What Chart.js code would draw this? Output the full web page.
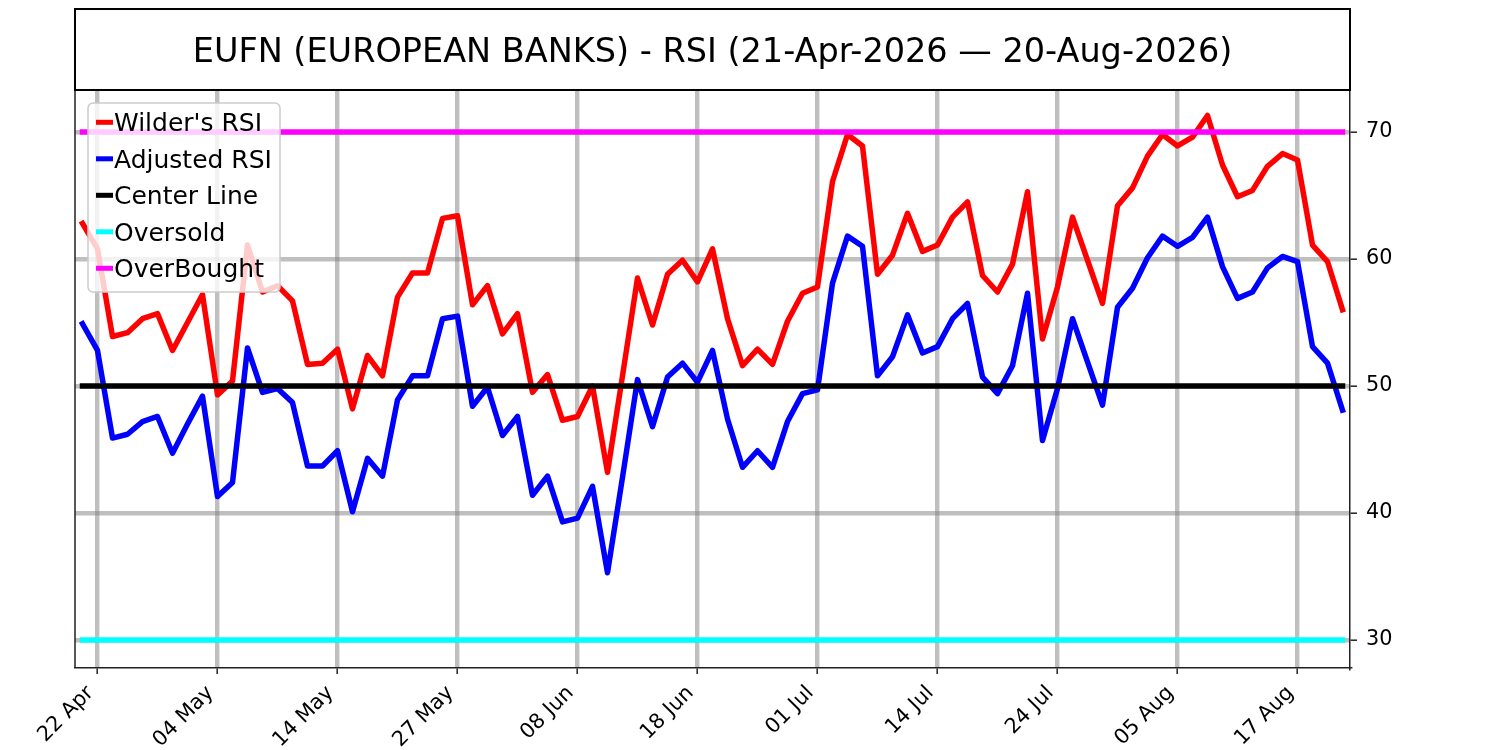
<!DOCTYPE html>
<html><head><meta charset="utf-8">
<script src="https://cdn.jsdelivr.net/npm/chart.js@4.4.1/dist/chart.umd.min.js"></script>
<style>html,body{margin:0;padding:0;background:#fff;} canvas{display:block;}</style>
</head><body>
<canvas id="c" width="1500" height="750"></canvas>
<script>
// ---- data ----
const dates = [
  "21 Apr","22 Apr","23 Apr","24 Apr","27 Apr","28 Apr","29 Apr","30 Apr",
  "01 May","04 May","05 May","06 May","07 May","08 May","11 May","12 May","13 May","14 May","15 May",
  "18 May","19 May","20 May","21 May","22 May","26 May","27 May","28 May","29 May",
  "01 Jun","02 Jun","03 Jun","04 Jun","05 Jun","08 Jun","09 Jun","10 Jun","11 Jun","12 Jun",
  "15 Jun","16 Jun","17 Jun","18 Jun","22 Jun","23 Jun","24 Jun","25 Jun","26 Jun","29 Jun","30 Jun",
  "01 Jul","02 Jul","06 Jul","07 Jul","08 Jul","09 Jul","10 Jul","13 Jul","14 Jul","15 Jul","16 Jul",
  "17 Jul","20 Jul","21 Jul","22 Jul","23 Jul","24 Jul","27 Jul","28 Jul","29 Jul","30 Jul","31 Jul",
  "03 Aug","04 Aug","05 Aug","06 Aug","07 Aug","10 Aug","11 Aug","12 Aug","13 Aug","14 Aug",
  "17 Aug","18 Aug","19 Aug","20 Aug"
];
const wilderRSI = [
  62.8, 60.8, 53.9, 54.2, 55.3, 55.7, 52.8, 55.0, 57.2, 49.3,
  50.4, 61.1, 57.4, 57.9, 56.7, 51.7, 51.8, 52.9, 48.2, 52.4,
  50.8, 57.0, 58.9, 58.9, 63.2, 63.4, 56.4, 57.9, 54.1, 55.7,
  49.5, 50.9, 47.3, 47.6, 50.0, 43.2, 50.8, 58.5, 54.8, 58.8,
  59.9, 58.2, 60.8, 55.3, 51.6, 52.9, 51.7, 55.1, 57.3, 57.8,
  66.1, 69.8, 68.9, 58.8, 60.3, 63.6, 60.6, 61.1, 63.3, 64.5,
  58.7, 57.4, 59.6, 65.3, 53.7, 57.8, 63.3, 59.9, 56.5, 64.2,
  65.6, 68.1, 69.8, 68.9, 69.6, 71.3, 67.4, 64.9, 65.4, 67.3,
  68.3, 67.8, 61.1, 59.8, 56.0
];
const adjustedRSI = [
  54.9, 52.8, 45.9, 46.2, 47.2, 47.6, 44.7, 47.0, 49.2, 41.3,
  42.4, 53.0, 49.5, 49.8, 48.7, 43.7, 43.7, 44.9, 40.1, 44.3,
  42.9, 48.9, 50.8, 50.8, 55.3, 55.5, 48.4, 49.9, 46.1, 47.6,
  41.4, 42.9, 39.3, 39.6, 42.1, 35.3, 42.8, 50.5, 46.8, 50.7,
  51.8, 50.3, 52.8, 47.4, 43.6, 44.9, 43.6, 47.2, 49.4, 49.7,
  58.1, 61.8, 61.0, 50.8, 52.3, 55.6, 52.6, 53.1, 55.3, 56.5,
  50.7, 49.4, 51.6, 57.3, 45.7, 49.8, 55.3, 51.9, 48.5, 56.2,
  57.7, 60.1, 61.8, 61.0, 61.7, 63.3, 59.4, 56.9, 57.4, 59.3,
  60.2, 59.8, 53.1, 51.8, 48.1
];
const centerLevel = 50;
const oversoldLevel = 30;
const overboughtLevel = 70;
const xTickIndex = [1, 9, 17, 25, 33, 41, 49, 57, 65, 73, 81];
const yTickValues = [30, 40, 50, 60, 70];
const titleText = "EUFN (EUROPEAN BANKS) - RSI (21-Apr-2026 \u2014 20-Aug-2026)";
const seriesNames = ["Wilder's RSI", "Adjusted RSI", "Center Line", "Oversold", "OverBought"];
const seriesColors = ["#ff0000", "#0000ff", "#000000", "#00ffff", "#ff00ff"];

// ---- build ----
const FONT = '"DejaVu Sans", "Liberation Sans", sans-serif';
const LW = 5.5;
const GW = 4.4;
const toPts = arr => arr.map((v, i) => ({x: i, y: v}));
const level = lv => dates.map((d, i) => ({x: i, y: lv}));
const seriesData = [toPts(wilderRSI), toPts(adjustedRSI), level(centerLevel), level(oversoldLevel), level(overboughtLevel)];

const datasets = seriesNames.map((name, k) => ({
  label: name,
  data: seriesData[k],
  borderColor: seriesColors[k],
  backgroundColor: seriesColors[k],
  borderWidth: LW,
  pointRadius: 0,
  tension: 0,
  fill: false,
  borderCapStyle: 'square',
  borderJoinStyle: 'round',
  order: 4 - k
}));

const decor = {
  id: 'decor',
  afterDraw(chart) {
    const ctx = chart.ctx, a = chart.chartArea;
    ctx.save();
    // left & top frame
    ctx.strokeStyle = '#222'; ctx.lineWidth = 1.5;
    ctx.beginPath();
    ctx.moveTo(a.left, a.bottom); ctx.lineTo(a.left, a.top); ctx.lineTo(a.right, a.top);
    ctx.stroke();
    // title box
    ctx.strokeStyle = '#000'; ctx.lineWidth = 2;
    ctx.strokeRect(a.left, 9, a.right - a.left, a.top - 9);
    ctx.fillStyle = '#000';
    ctx.font = '33.5px ' + FONT;
    ctx.textAlign = 'center'; ctx.textBaseline = 'alphabetic';
    ctx.fillText(titleText, (a.left + a.right) / 2, 61.5);
    // legend
    const lx = a.left + 13, ly = a.top + 13, lw = 192, lh = 189, r = 5;
    ctx.beginPath();
    ctx.moveTo(lx + r, ly);
    ctx.lineTo(lx + lw - r, ly); ctx.arcTo(lx + lw, ly, lx + lw, ly + r, r);
    ctx.lineTo(lx + lw, ly + lh - r); ctx.arcTo(lx + lw, ly + lh, lx + lw - r, ly + lh, r);
    ctx.lineTo(lx + r, ly + lh); ctx.arcTo(lx, ly + lh, lx, ly + lh - r, r);
    ctx.lineTo(lx, ly + r); ctx.arcTo(lx, ly, lx + r, ly, r);
    ctx.closePath();
    ctx.fillStyle = 'rgba(255,255,255,0.8)'; ctx.fill();
    ctx.strokeStyle = '#cccccc'; ctx.lineWidth = 1.5; ctx.stroke();
    ctx.font = '25px ' + FONT;
    ctx.textAlign = 'left'; ctx.textBaseline = 'alphabetic';
    seriesNames.forEach((name, k) => {
      const cy = ly + 19.3 + k * 36.5;
      ctx.strokeStyle = seriesColors[k]; ctx.lineWidth = 5; ctx.lineCap = 'butt';
      ctx.beginPath(); ctx.moveTo(lx + 8, cy); ctx.lineTo(lx + 25, cy); ctx.stroke();
      ctx.fillStyle = '#000';
      ctx.fillText(name, lx + 26, cy + 8.7);
    });
    ctx.restore();
  }
};

new Chart(document.getElementById('c'), {
  type: 'line',
  data: { datasets },
  options: {
    responsive: false,
    animation: false,
    devicePixelRatio: 1,
    layout: { padding: { left: 75, top: 90, right: 0, bottom: 0 } },
    plugins: { legend: { display: false }, tooltip: { enabled: false }, title: { display: false } },
    scales: {
      x: {
        type: 'linear',
        min: -0.5, max: 84.5,
        afterBuildTicks: s => { s.ticks = xTickIndex.map(v => ({ value: v })); },
        afterFit: s => { s.height = 82; },
        ticks: {
          autoSkip: false, maxRotation: 45, minRotation: 45,
          color: '#000', font: { family: FONT, size: 20.8 }, padding: 7, labelOffset: -7,
          callback: v => dates[v]
        },
        grid: { color: 'rgba(128,128,128,0.5)', lineWidth: GW, tickColor: '#222', tickWidth: 1.5, tickLength: 6, drawTicks: true },
        border: { display: true, color: '#222', width: 1.5 }
      },
      y: {
        type: 'linear',
        position: 'right',
        min: 27.795, max: 73.307,
        afterBuildTicks: s => { s.ticks = yTickValues.map(v => ({ value: v })); },
        afterFit: s => { s.width = 150; },
        ticks: { color: '#000', font: { family: FONT, size: 20.8 }, padding: 9, callback: v => String(v) },
        grid: { color: 'rgba(128,128,128,0.5)', lineWidth: GW, tickColor: '#222', tickWidth: 1.5, tickLength: 7, drawTicks: true },
        border: { display: true, color: '#222', width: 1.5 }
      }
    }
  },
  plugins: [decor]
});
</script>
</body></html>
